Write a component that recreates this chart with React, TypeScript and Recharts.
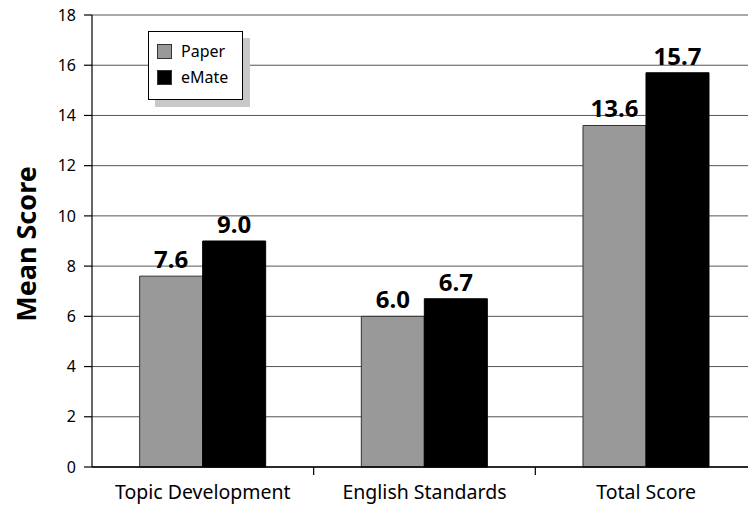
import { BarChart, Bar, XAxis, YAxis, CartesianGrid, LabelList } from 'recharts'

const categories = ['Topic Development', 'English Standards', 'Total Score']
const paper = [7.6, 6.0, 13.6]
const emate = [9.0, 6.7, 15.7]
const yTicks = [0, 2, 4, 6, 8, 10, 12, 14, 16, 18]

const FONT = '"Noto Sans", sans-serif'
const PLOT_LEFT = 92
const PLOT_RIGHT = 757
const PLOT_BOTTOM = 467
const BAND = (PLOT_RIGHT - PLOT_LEFT) / categories.length

const data = categories.map((name, i) => ({ name, paper: paper[i], emate: emate[i] }))

function CategoryTick({ x, payload, index }: any) {
  const edge = x + BAND / 2
  return (
    <g>
      <text x={x} y={499} textAnchor="middle" fontSize={19.5} fontFamily={FONT} fill="#000">
        {payload.value}
      </text>
      {index < categories.length - 1 && (
        <line x1={edge} x2={edge} y1={PLOT_BOTTOM} y2={PLOT_BOTTOM + 8} stroke="#000" strokeWidth={1.2} />
      )}
    </g>
  )
}

function YTitle() {
  return (
    <text
      x={25}
      y={244}
      transform="rotate(-90, 25, 244)"
      textAnchor="middle"
      dominantBaseline="central"
      fontSize={27}
      fontWeight="bold"
      fontFamily={FONT}
      fill="#000"
    >
      Mean Score
    </text>
  )
}

const fmt = (v: any) => Number(v).toFixed(1)

export default function App() {
  return (
    <div style={{ position: 'absolute', left: 0, top: 0, width: 748, height: 510, overflow: 'hidden', background: '#fff' }}>
      <BarChart
        width={770}
        height={510}
        data={data}
        margin={{ top: 15, right: 770 - PLOT_RIGHT, left: 0, bottom: 0 }}
        barCategoryGap="21.5%"
        barGap={0}
      >
        <CartesianGrid vertical={false} stroke="#555" strokeWidth={1} />
        <XAxis
          dataKey="name"
          height={43}
          tickLine={false}
          tickSize={8}
          axisLine={{ stroke: '#000', strokeWidth: 1.5 }}
          tick={<CategoryTick />}
          interval={0}
        />
        <YAxis
          width={PLOT_LEFT}
          domain={[0, 18]}
          ticks={yTicks}
          interval={0}
          tickSize={8}
          tickMargin={8}
          axisLine={{ stroke: '#000', strokeWidth: 1.2 }}
          tickLine={{ stroke: '#000', strokeWidth: 1.2 }}
          tick={{ fontSize: 16, fill: '#000', fontFamily: FONT }}
          label={<YTitle />}
        />
        <Bar dataKey="paper" fill="#999999" stroke="#333" strokeWidth={1} isAnimationActive={false}>
          <LabelList dataKey="paper" position="top" offset={8} formatter={fmt} fontSize={24} fontWeight="bold" fontFamily={FONT} fill="#000" />
        </Bar>
        <Bar dataKey="emate" fill="#000000" stroke="#000" strokeWidth={1} isAnimationActive={false}>
          <LabelList dataKey="emate" position="top" offset={8} formatter={fmt} fontSize={24} fontWeight="bold" fontFamily={FONT} fill="#000" />
        </Bar>
      </BarChart>
      <div
        style={{
          position: 'absolute',
          left: 148,
          top: 31,
          width: 93,
          height: 67,
          border: '1px solid #000',
          background: '#fff',
          boxShadow: '7px 7px 0 #c8c8c8',
          fontFamily: FONT,
          fontSize: 16,
        }}
      >
        {[
          { label: 'Paper', color: '#999999', top: 12 },
          { label: 'eMate', color: '#000000', top: 38 },
        ].map((item) => (
          <div key={item.label} style={{ position: 'absolute', left: 8, top: item.top, display: 'flex', alignItems: 'center' }}>
            <div style={{ width: 13, height: 13, background: item.color, border: '1px solid #333' }} />
            <span style={{ marginLeft: 9, lineHeight: '15px' }}>{item.label}</span>
          </div>
        ))}
      </div>
    </div>
  )
}
